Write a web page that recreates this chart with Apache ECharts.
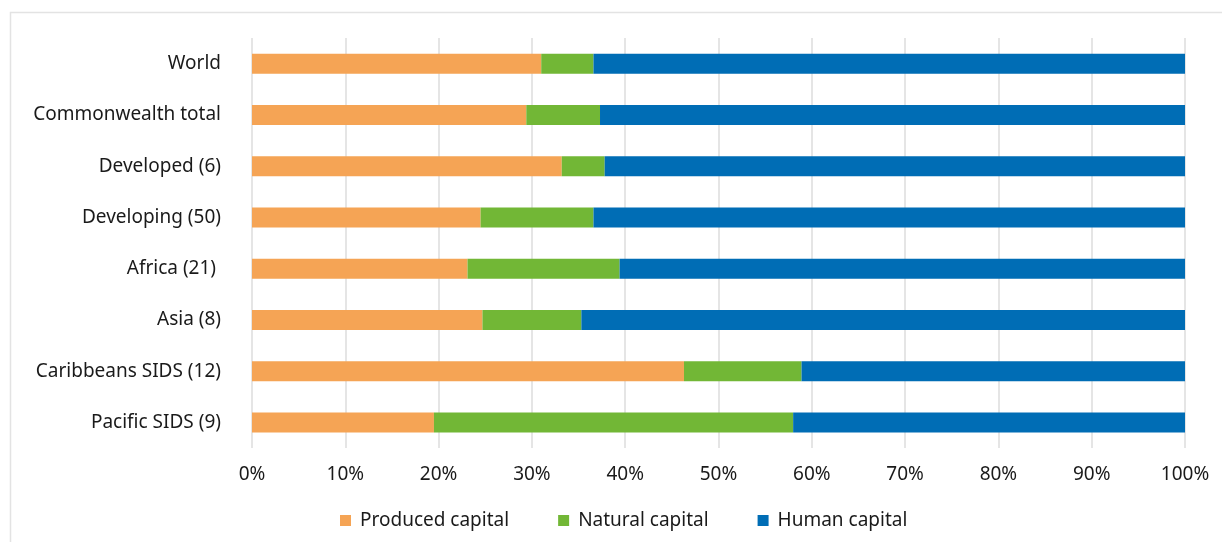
<!DOCTYPE html>
<html>
<head>
<meta charset="utf-8">
<script src="https://cdn.jsdelivr.net/npm/echarts@6/dist/echarts.min.js"></script>
<style>
  html, body { margin: 0; padding: 0; background: #ffffff; }
  #chart { width: 1222px; height: 542px; }
</style>
</head>
<body>
<div id="chart"></div>
<script>
// Composition of wealth by region (% share)
const categories = [
  'World',
  'Commonwealth total',
  'Developed (6)',
  'Developing (50)',
  'Africa (21) ',
  'Asia (8)',
  'Caribbeans SIDS (12)',
  'Pacific SIDS (9)'
];
const producedCapital = [31.0, 29.4, 33.2, 24.5, 23.1, 24.7, 46.3, 19.5];
const naturalCapital  = [5.6, 7.9, 4.6, 12.1, 16.3, 10.6, 12.6, 38.5];
const humanCapital    = [63.4, 62.7, 62.2, 63.4, 60.6, 64.7, 41.1, 42.0];
const tickValues = [0, 10, 20, 30, 40, 50, 60, 70, 80, 90, 100];

const FONT = '"Noto Sans", sans-serif';
const TEXT = '#1a1a1a';
const SIZE = 19;

const chart = echarts.init(document.getElementById('chart'), null, { renderer: 'canvas' });

function bar(name, data, color) {
  return {
    name: name,
    type: 'bar',
    stack: 'total',
    data: data,
    barWidth: 20,
    itemStyle: { color: color },
    emphasis: { disabled: true }
  };
}

chart.setOption({
  animation: false,
  backgroundColor: '#ffffff',
  textStyle: { fontFamily: FONT, color: TEXT },
  graphic: [{
    type: 'rect',
    silent: true,
    shape: { x: 10.5, y: 12.5, width: 1300, height: 600 },
    style: { fill: 'none', stroke: '#e3e3e3', lineWidth: 1.5 }
  }],
  grid: { left: 252, right: 37, top: 38, bottom: 94, containLabel: false },
  legend: {
    bottom: 7,
    left: 335,
    icon: 'rect',
    itemWidth: 11,
    itemHeight: 11,
    itemGap: 49,
    textStyle: { fontFamily: FONT, fontSize: SIZE, color: TEXT, padding: [0, 0, 0, 4] },
    data: ['Produced capital', 'Natural capital', 'Human capital']
  },
  xAxis: {
    type: 'value',
    min: 0,
    max: 100,
    interval: 10,
    axisLine: { show: false },
    axisTick: { show: false },
    splitLine: { show: true, lineStyle: { color: '#dcdcdc', width: 1.5 } },
    axisLabel: {
      margin: 17,
      fontFamily: FONT,
      fontSize: SIZE,
      color: TEXT,
      formatter: function (v) { return tickValues.indexOf(v) >= 0 ? v + '%' : ''; }
    }
  },
  yAxis: {
    type: 'category',
    inverse: true,
    data: categories,
    axisLine: { show: false },
    axisTick: { show: false },
    axisLabel: { margin: 31, fontFamily: FONT, fontSize: SIZE, color: TEXT }
  },
  series: [
    bar('Produced capital', producedCapital, '#F5A455'),
    bar('Natural capital', naturalCapital, '#72B736'),
    bar('Human capital', humanCapital, '#006DB5')
  ]
});
</script>
</body>
</html>
